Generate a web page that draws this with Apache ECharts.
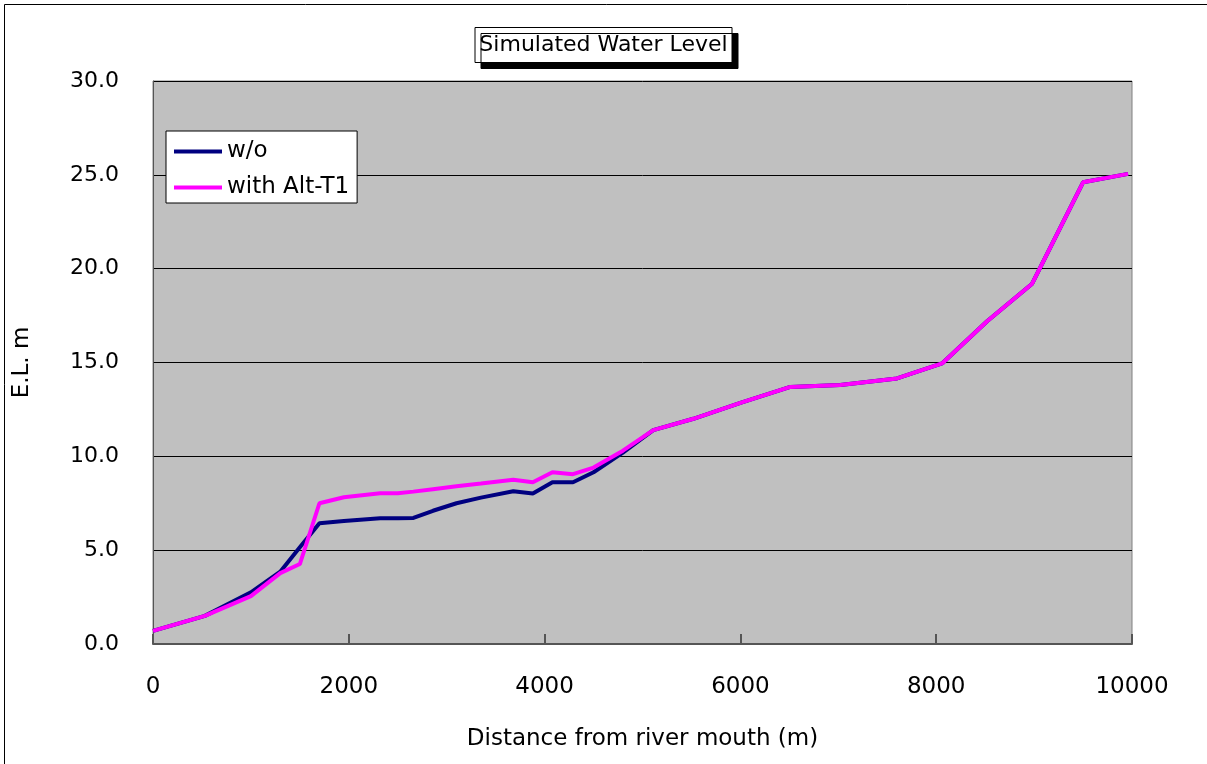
<!DOCTYPE html>
<html><head><meta charset="utf-8">
<script src="https://cdn.jsdelivr.net/npm/echarts@6/dist/echarts.min.js"></script>
<style>html,body{margin:0;padding:0;background:#fff}#c{width:1207px;height:764px}</style>
</head><body><div id="c"></div>
<script>
const distances = [0, 530, 1000, 1300, 1500, 1700, 1950, 2320, 2500, 2660, 2860, 3100, 3350, 3680, 3880, 4080, 4290, 4500, 4800, 5110, 5520, 6000, 6510, 7020, 7600, 8060, 8520, 8980, 9500, 9960];
const levelWithout = [0.7, 1.5, 2.75, 3.85, 5.15, 6.43, 6.55, 6.7, 6.7, 6.72, 7.1, 7.5, 7.8, 8.14, 8.02, 8.62, 8.62, 9.15, 10.2, 11.4, 12.0, 12.85, 13.7, 13.8, 14.15, 14.95, 17.2, 19.2, 24.6, 25.05];
const levelAltT1 = [0.7, 1.5, 2.55, 3.78, 4.26, 7.5, 7.82, 8.03, 8.03, 8.12, 8.25, 8.4, 8.55, 8.75, 8.62, 9.15, 9.05, 9.4, 10.3, 11.4, 12.0, 12.85, 13.7, 13.8, 14.15, 14.95, 17.2, 19.2, 24.6, 25.05];
const seriesNames = ['w/o', 'with Alt-T1'];

const FONT = '"DejaVu Sans", sans-serif';
const chart = echarts.init(document.getElementById('c'));
const pairs = arr => distances.map((d, i) => [d, arr[i]]);
chart.setOption({
  animation: false,
  backgroundColor: '#fff',
  textStyle: { fontFamily: FONT },
  title: {
    text: 'Simulated Water Level',
    left: 'center', top: 27,
    padding: [7, 5, 7, 5],
    borderColor: '#000', borderWidth: 1, backgroundColor: '#fff',
    shadowColor: '#000', shadowOffsetX: 6, shadowOffsetY: 6, shadowBlur: 0,
    textStyle: { fontFamily: FONT, fontSize: 22, fontWeight: 'normal', color: '#000' }
  },
  legend: {
    orient: 'vertical', left: 166, top: 131,
    backgroundColor: '#fff', borderColor: '#000', borderWidth: 1,
    padding: [9, 8, 4, 8], itemGap: 13,
    itemWidth: 48, itemHeight: 4,
    icon: 'rect',
    textStyle: { fontFamily: FONT, fontSize: 23, color: '#000' },
    data: seriesNames
  },
  grid: {
    left: 153, top: 81, right: 75, bottom: 120,
    show: true, backgroundColor: '#C0C0C0', borderColor: '#808080', borderWidth: 1
  },
  xAxis: {
    type: 'value', min: 0, max: 10000, interval: 2000,
    name: 'Distance from river mouth (m)', nameLocation: 'middle', nameGap: 84,
    nameTextStyle: { fontFamily: FONT, fontSize: 23, color: '#000' },
    axisLine: { lineStyle: { color: '#555', width: 2 } },
    axisTick: { inside: true, length: 10, lineStyle: { color: '#555', width: 2 } },
    axisLabel: { fontFamily: FONT, fontSize: 23, color: '#000', margin: 32, formatter: v => String(v) },
    splitLine: { show: false }
  },
  yAxis: {
    type: 'value', min: 0, max: 30, interval: 5,
    name: 'E.L. m', nameLocation: 'middle', nameGap: 119, nameRotate: 90,
    nameTextStyle: { fontFamily: FONT, fontSize: 23, color: '#000' },
    axisLine: { show: true, lineStyle: { color: '#555', width: 1 } },
    axisTick: { show: false },
    axisLabel: { fontFamily: FONT, fontSize: 22, color: '#000', margin: 34, formatter: v => v.toFixed(1) },
    splitLine: { show: true, lineStyle: { color: '#000', width: 1 } }
  },
  series: [
    { name: seriesNames[0], type: 'line', data: pairs(levelWithout), showSymbol: false, symbol: 'none',
      lineStyle: { color: '#000080', width: 4 }, itemStyle: { color: '#000080' } },
    { name: seriesNames[1], type: 'line', data: pairs(levelAltT1), showSymbol: false, symbol: 'none',
      lineStyle: { color: '#FF00FF', width: 4 }, itemStyle: { color: '#FF00FF' } }
  ],
  graphic: [{
    type: 'rect', shape: { x: 4.5, y: 4.5, width: 1210, height: 770 },
    style: { fill: 'none', stroke: '#000', lineWidth: 1 }, silent: true
  }]
});
</script></body></html>
